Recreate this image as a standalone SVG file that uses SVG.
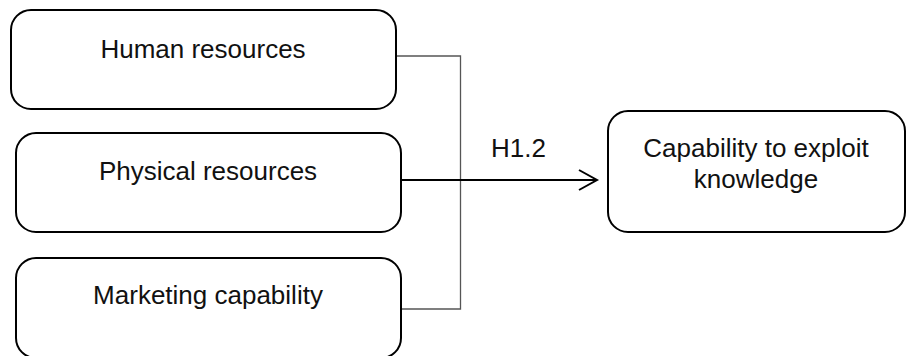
<svg xmlns="http://www.w3.org/2000/svg" width="907" height="356" viewBox="0 0 907 356">
<style>
.box{fill:#fff;stroke:#000;stroke-width:2}
.t{font-family:"Liberation Sans",Arial,sans-serif;font-size:26px;fill:#111;text-anchor:middle}
.thin{fill:none;stroke:#555;stroke-width:1.3}
.main{fill:none;stroke:#000;stroke-width:2}
</style>
<rect width="907" height="356" fill="#fff"/>
<g id="connectors">
<polyline class="thin" points="397,56 460.5,56 460.5,309 401,309"/>
<line class="main" x1="401" y1="180" x2="596" y2="180"/>
<polyline class="main" points="579,170 597,180 579,190"/>
<text class="t" x="491" y="157" style="text-anchor:start">H1.2</text>
</g>
<g id="human">
<rect class="box" x="11" y="10" width="385" height="99" rx="20"/>
<text class="t" x="203" y="58">Human resources</text>
</g>
<g id="physical">
<rect class="box" x="16" y="133" width="385" height="99" rx="20"/>
<text class="t" x="208" y="180">Physical resources</text>
</g>
<g id="marketing">
<rect class="box" x="16" y="258" width="385" height="100" rx="20"/>
<text class="t" x="208" y="304">Marketing capability</text>
</g>
<g id="exploit">
<rect class="box" x="608" y="111" width="297" height="121" rx="20"/>
<text class="t" x="756" y="157">Capability to exploit</text>
<text class="t" x="756" y="188">knowledge</text>
</g>
</svg>
